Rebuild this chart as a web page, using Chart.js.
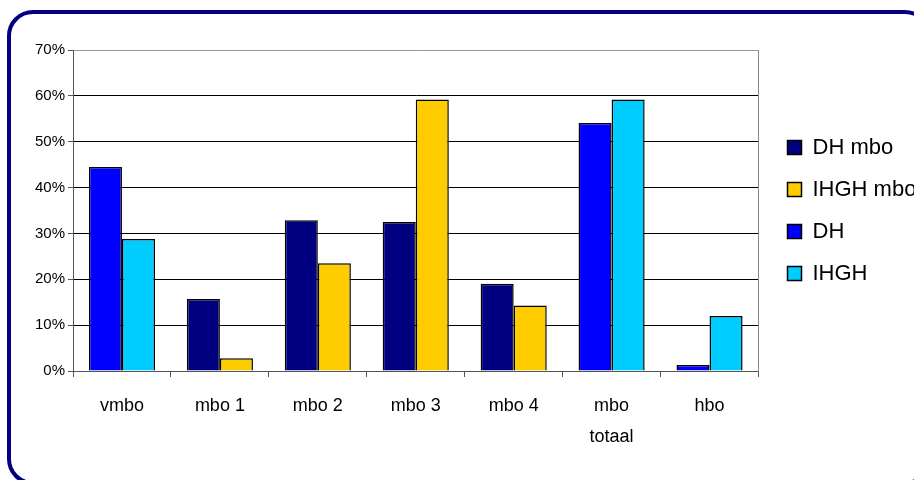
<!DOCTYPE html>
<html lang="nl">
<head>
<meta charset="utf-8">
<title>DH / IHGH opleidingsniveau</title>
<script src="https://cdn.jsdelivr.net/npm/chart.js@4.4.1/dist/chart.umd.min.js"></script>
<style>
    html, body { margin: 0; padding: 0; background: #fff; overflow: hidden; }
    body { width: 914px; height: 480px; position: relative; }
    /* blauwe afgeronde rand om de grafiek */
    #kader {
        position: absolute; left: 7px; top: 10px; width: 916px; height: 467px;
        border: 4px solid #000080; border-radius: 26px;
    }
    #wrap { position: absolute; left: 0; top: 0; width: 921px; height: 480px; }
</style>
</head>
<body>
<div id="kader"></div>
<div id="wrap"><canvas id="grafiek"></canvas></div>
<script>
// Categorieën en reeksen (waarden in %)
const categorieen = ['vmbo', 'mbo 1', 'mbo 2', 'mbo 3', 'mbo 4', ['mbo', 'totaal'], 'hbo'];
const dhMbo   = [null, 15.7, 32.9, 32.5, 19.0, null, null];
const ihghMbo = [null, 2.8, 23.5, 59.2, 14.3, null, null];
const dh      = [44.5, null, null, null, null, 54.1, 1.3];
const ihgh    = [28.8, null, null, null, null, 59.2, 12.0];
const yTicks  = [0, 10, 20, 30, 40, 50, 60, 70];

const FONT = "'Liberation Sans', Arial, sans-serif";

function maakReeks(label, data, kleur) {
    return {
        label: label,
        data: data,
        backgroundColor: kleur,
        borderColor: '#000',
        borderWidth: 1.5,
        skipNull: true
    };
}

document.addEventListener('DOMContentLoaded', () => {
    const ctx = document.getElementById('grafiek').getContext('2d');
    new Chart(ctx, {
        type: 'bar',
        data: {
            labels: categorieen,
            datasets: [
                maakReeks('DH mbo', dhMbo, '#000080'),
                maakReeks('IHGH mbo', ihghMbo, '#FFCC00'),
                maakReeks('DH', dh, '#0000FF'),
                maakReeks('IHGH', ihgh, '#00CCFF')
            ]
        },
        options: {
            responsive: true,
            maintainAspectRatio: false,
            animation: false,
            datasets: { bar: { barPercentage: 1, categoryPercentage: 0.675, skipNull: true } },
            layout: { padding: { top: 50, left: 0, right: 0, bottom: 0 } },
            plugins: {
                tooltip: { enabled: false },
                legend: {
                    position: 'right',
                    fullSize: false,
                    align: 'center',
                    labels: {
                        font: { family: FONT, size: 22 },
                        color: '#000',
                        boxWidth: 14,
                        boxHeight: 14,
                        padding: 20
                    }
                }
            },
            scales: {
                x: {
                    grid: {
                        offset: true,
                        drawOnChartArea: false,
                        tickLength: 6,
                        color: '#555'
                    },
                    border: { color: '#555', width: 1 },
                    ticks: {
                        font: { family: FONT, size: 18, lineHeight: 1.72 },
                        color: '#000',
                        padding: 14,
                        maxRotation: 0,
                        autoSkip: false
                    },
                    afterFit: (scale) => { scale.height = 109; }
                },
                y: {
                    min: 0,
                    max: 70,
                    afterBuildTicks: (scale) => { scale.ticks = yTicks.map(v => ({ value: v })); },
                    grid: {
                        color: (c) => (c.tick && c.tick.value === 70 ? '#999' : '#000'),
                        tickColor: '#555',
                        tickLength: 5
                    },
                    border: { color: '#555', width: 1 },
                    ticks: {
                        font: { family: FONT, size: 15 },
                        color: '#000',
                        padding: 3,
                        callback: (v) => v + '%'
                    },
                    afterFit: (scale) => { scale.width = 73; }
                },
                // rechter rand van het plotgebied
                y2: {
                    position: 'right',
                    min: 0,
                    max: 70,
                    grid: { drawOnChartArea: false, drawTicks: false },
                    border: { color: '#888', width: 1 },
                    ticks: { display: false },
                    afterFit: (scale) => { scale.width = 9; }
                }
            }
        }
    });
});
</script>
</body>
</html>
